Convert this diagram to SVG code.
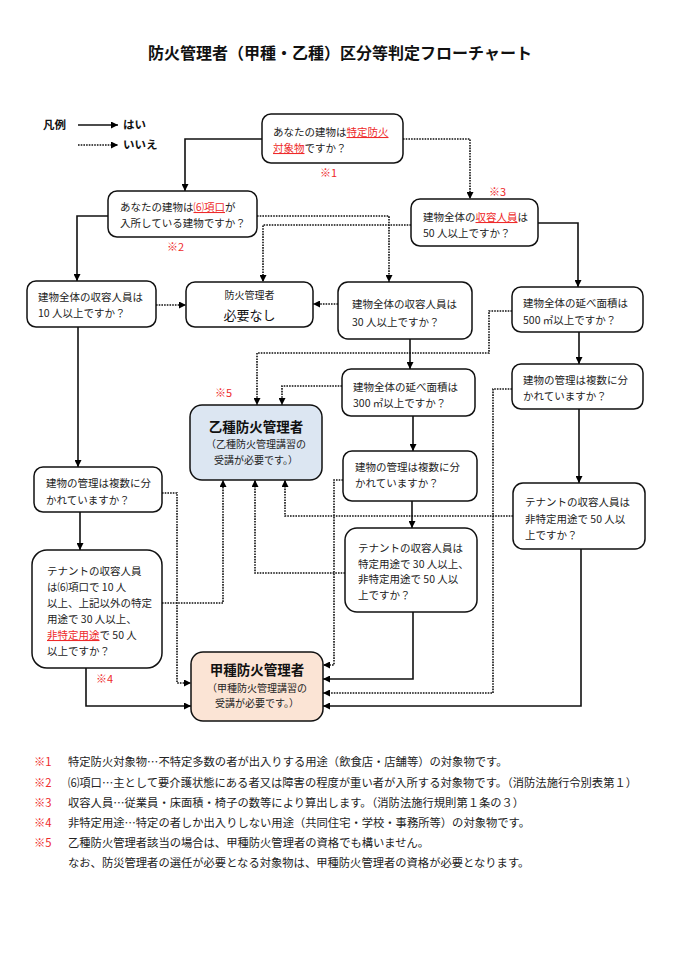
<svg xmlns="http://www.w3.org/2000/svg" width="679" height="960" viewBox="0 0 679 960">
<defs>
<marker id="ah" viewBox="0 0 10 10" refX="10" refY="5" markerWidth="7" markerHeight="7" markerUnits="userSpaceOnUse" orient="auto"><path d="M0,0 L10,5 L0,10 z" fill="#000"/></marker>
<style>
text{font-family:"Noto Sans CJK JP","Noto Sans CJK SC",sans-serif;fill:#222;}
.t{font-size:10.5px;}
.s{font-size:10px;}
.b{font-size:13.5px;font-weight:bold;fill:#111;}
.r{fill:#ee2a2a;}
.u{fill:#ee2a2a;text-decoration:underline;}
.box{fill:#fff;stroke:#111;stroke-width:1.5;}
.yes{fill:none;stroke:#111;stroke-width:1.6;marker-end:url(#ah);}
.no{fill:none;stroke:#111;stroke-width:1.6;stroke-dasharray:1.6 1.1;marker-end:url(#ah);}
.fn{font-size:11.3px;}
.lg{font-size:11.5px;font-weight:bold;fill:#111;}
</style>
</defs>
<rect width="679" height="960" fill="#fff"/>
<text x="340" y="59" text-anchor="middle" style="font-size:16px;font-weight:bold;fill:#111">防火管理者（甲種・乙種）区分等判定フローチャート</text>

<g id="legend">
<text class="lg" x="43" y="129">凡例</text>
<path class="yes" d="M78,125 H118"/>
<text class="lg" x="123" y="129">はい</text>
<path class="no" d="M78,145 H118"/>
<text class="lg" x="123" y="149">いいえ</text>
</g>

<g id="connectors">
<path class="yes" d="M262,139 H185 V191"/>
<path class="yes" d="M108,216 H77 V281"/>
<path class="yes" d="M538,223 H578 V287"/>
<path class="yes" d="M78,327 V467"/>
<path class="yes" d="M80,512 V550"/>
<path class="yes" d="M86,668 V706 H191"/>
<path class="yes" d="M410,339 V369"/>
<path class="yes" d="M413,416 V451"/>
<path class="yes" d="M412,501 V528"/>
<path class="yes" d="M413,612 V679 H323"/>
<path class="yes" d="M579,332 V364"/>
<path class="yes" d="M579,409 V483"/>
<path class="yes" d="M581,549 V706 H323"/>
<path class="no" d="M403,139 H470 V199"/>
<path class="no" d="M257,216 H389 V282"/>
<path class="no" d="M411,225 H263 V282"/>
<path class="no" d="M156,305 H186"/>
<path class="no" d="M338,304 H313"/>
<path class="no" d="M512,311 H489 V353 H257 V405"/>
<path class="no" d="M342,386 H282 V405"/>
<path class="no" d="M162,493 H177 V683 H191"/>
<path class="no" d="M162,603 H223 V480"/>
<path class="no" d="M345,573 H255 V480"/>
<path class="no" d="M513,516 H285 V480"/>
<path class="no" d="M343,480 H334 V665 H323"/>
<path class="no" d="M512,389 H493 V693 H323"/>
</g>

<g id="q1">
<rect class="box" x="262" y="114" width="141" height="49" rx="9"/>
<text class="t" x="273" y="136">あなたの建物は<tspan class="u">特定防火</tspan></text>
<text class="t" x="273" y="152"><tspan class="u">対象物</tspan>ですか？</text>
<text class="r" x="320" y="177" style="font-size:11px">※1</text>
</g>

<g id="q2">
<rect class="box" x="108" y="191" width="149" height="46" rx="9"/>
<text class="t" x="120" y="211">あなたの建物は<tspan class="u">⑹項口</tspan>が</text>
<text class="t" x="120" y="227">入所している建物ですか？</text>
<text class="r" x="167" y="251" style="font-size:11px">※2</text>
</g>

<g id="q3">
<rect class="box" x="411" y="199" width="127" height="47" rx="9"/>
<text class="t" x="423" y="221">建物全体の<tspan class="u">収容人員</tspan>は</text>
<text class="t" x="423" y="237">50 人以上ですか？</text>
<text class="r" x="489" y="196" style="font-size:11px">※3</text>
</g>

<g id="q4">
<rect class="box" x="27" y="281" width="129" height="46" rx="9"/>
<text class="t" x="38" y="301">建物全体の収容人員は</text>
<text class="t" x="38" y="317">10 人以上ですか？</text>
</g>

<g id="none">
<rect class="box" x="186" y="282" width="127" height="45" rx="9"/>
<text class="s" x="249.5" y="299" text-anchor="middle">防火管理者</text>
<text x="249.5" y="320" text-anchor="middle" style="font-size:13px;fill:#111">必要なし</text>
</g>

<g id="q30">
<rect class="box" x="338" y="282" width="134" height="57" rx="10"/>
<text class="t" x="352" y="308">建物全体の収容人員は</text>
<text class="t" x="352" y="326">30 人以上ですか？</text>
</g>

<g id="q500">
<rect class="box" x="512" y="287" width="131" height="45" rx="9"/>
<text class="t" x="523" y="307">建物全体の延べ面積は</text>
<text class="t" x="523" y="324">500 ㎡以上ですか？</text>
</g>

<g id="q300">
<rect class="box" x="342" y="369" width="133" height="47" rx="9"/>
<text class="t" x="353" y="391">建物全体の延べ面積は</text>
<text class="t" x="353" y="407">300 ㎡以上ですか？</text>
</g>

<g id="qmgmtR">
<rect class="box" x="512" y="364" width="131" height="45" rx="9"/>
<text class="t" x="523" y="384">建物の管理は複数に分</text>
<text class="t" x="523" y="400">かれていますか？</text>
</g>

<g id="otsu">
<rect x="190" y="405" width="132" height="75" rx="12" fill="#dce6f2" stroke="#111" stroke-width="1.5"/>
<text class="b" x="256" y="432" text-anchor="middle">乙種防火管理者</text>
<text class="s" x="256" y="448" text-anchor="middle">（乙種防火管理講習の</text>
<text class="s" x="256" y="464" text-anchor="middle">受講が必要です。）</text>
<text class="r" x="215" y="397" style="font-size:11px">※5</text>
</g>

<g id="qmgmtM">
<rect class="box" x="343" y="451" width="134" height="50" rx="9"/>
<text class="t" x="355" y="471">建物の管理は複数に分</text>
<text class="t" x="355" y="487">かれていますか？</text>
</g>

<g id="qtenR">
<rect class="box" x="513" y="483" width="132" height="66" rx="10"/>
<text class="t" x="525" y="506">テナントの収容人員は</text>
<text class="t" x="525" y="523">非特定用途で 50 人以</text>
<text class="t" x="525" y="539">上ですか？</text>
</g>

<g id="qtenM">
<rect class="box" x="345" y="528" width="132" height="84" rx="12"/>
<text class="t" x="358" y="552">テナントの収容人員は</text>
<text class="t" x="358" y="568">特定用途で 30 人以上、</text>
<text class="t" x="358" y="583">非特定用途で 50 人以</text>
<text class="t" x="358" y="599">上ですか？</text>
</g>

<g id="qmgmtL">
<rect class="box" x="34" y="467" width="128" height="45" rx="9"/>
<text class="t" x="46" y="487">建物の管理は複数に分</text>
<text class="t" x="46" y="504">かれていますか？</text>
</g>

<g id="qtenL">
<rect class="box" x="32" y="550" width="130" height="118" rx="15"/>
<text class="t" x="47" y="575">テナントの収容人員</text>
<text class="t" x="47" y="591">は⑹項口で 10 人</text>
<text class="t" x="47" y="607">以上、上記以外の特定</text>
<text class="t" x="47" y="623">用途で 30 人以上、</text>
<text class="t" x="47" y="639"><tspan class="u">非特定用途</tspan>で 50 人</text>
<text class="t" x="47" y="655">以上ですか？</text>
<text class="r" x="96" y="683" style="font-size:11px">※4</text>
</g>

<g id="kou">
<rect x="191" y="652" width="132" height="69" rx="12" fill="#fbe4d5" stroke="#111" stroke-width="1.5"/>
<text class="b" x="257" y="675" text-anchor="middle">甲種防火管理者</text>
<text class="s" x="257" y="692" text-anchor="middle">（甲種防火管理講習の</text>
<text class="s" x="257" y="707" text-anchor="middle">受講が必要です。）</text>
</g>

<g id="notes">
<text class="fn r" x="34" y="766">※1</text>
<text class="fn" x="68" y="766">特定防火対象物…不特定多数の者が出入りする用途（飲食店・店舗等）の対象物です。</text>
<text class="fn r" x="34" y="787">※2</text>
<text class="fn" x="68" y="787">⑹項口…主として要介護状態にある者又は障害の程度が重い者が入所する対象物です。（消防法施行令別表第１）</text>
<text class="fn r" x="34" y="807">※3</text>
<text class="fn" x="68" y="807">収容人員…従業員・床面積・椅子の数等により算出します。（消防法施行規則第１条の３）</text>
<text class="fn r" x="34" y="827">※4</text>
<text class="fn" x="68" y="827">非特定用途…特定の者しか出入りしない用途（共同住宅・学校・事務所等）の対象物です。</text>
<text class="fn r" x="34" y="847">※5</text>
<text class="fn" x="68" y="847">乙種防火管理者該当の場合は、甲種防火管理者の資格でも構いません。</text>
<text class="fn" x="68" y="867">なお、防災管理者の選任が必要となる対象物は、甲種防火管理者の資格が必要となります。</text>
</g>
</svg>
